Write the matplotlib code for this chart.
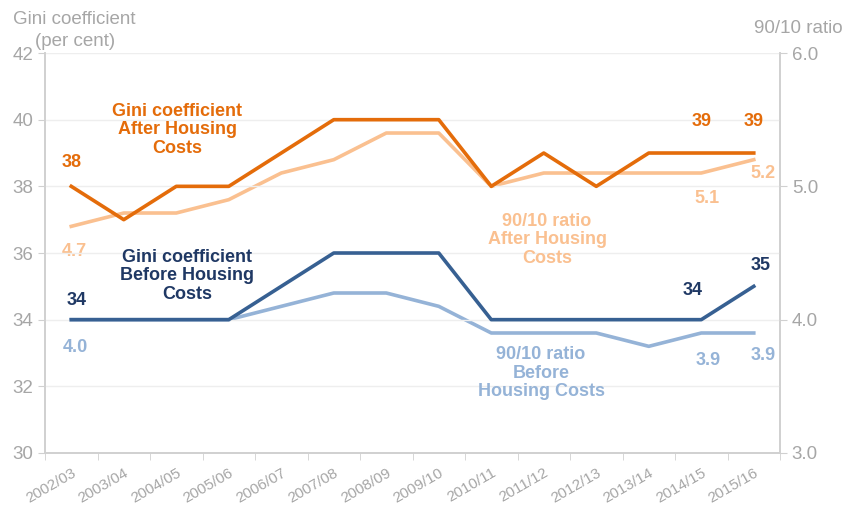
import matplotlib
matplotlib.use("Agg")
import matplotlib.pyplot as plt
import numpy as np

plt.rcParams["font.family"] = ["Liberation Sans", "DejaVu Sans"]

# ── data ────────────────────────────────────────────────────────────
YEARS = ["2002/03", "2003/04", "2004/05", "2005/06", "2006/07", "2007/08",
         "2008/09", "2009/10", "2010/11", "2011/12", "2012/13", "2013/14",
         "2014/15", "2015/16"]
GINI_AHC  = [38, 37, 38, 38, 39, 40, 40, 40, 38, 39, 38, 39, 39, 39]
GINI_BHC  = [34, 34, 34, 34, 35, 36, 36, 36, 34, 34, 34, 34, 34, 35]
RATIO_AHC = [4.7, 4.8, 4.8, 4.9, 5.1, 5.2, 5.4, 5.4, 5.0, 5.1, 5.1, 5.1, 5.1, 5.2]
RATIO_BHC = [4.0, 4.0, 4.0, 4.0, 4.1, 4.2, 4.2, 4.1, 3.9, 3.9, 3.9, 3.8, 3.9, 3.9]

C_GINI_AHC  = "#E46C0A"
C_RATIO_AHC = "#FAC090"
C_GINI_BHC  = "#376092"
C_GINI_TXT  = "#1F3864"
C_RATIO_BHC = "#95B3D7"
GREY        = "#A6A6A6"
SPINE       = "#D0D0D0"

x = np.arange(len(YEARS))

fig = plt.figure(figsize=(8.43, 5.05), dpi=100)
ax = fig.add_axes([0.0534, 0.103, 0.8719, 0.792])
ax2 = ax.twinx()

# ── lines ───────────────────────────────────────────────────────────
ax2.plot(x, RATIO_AHC, color=C_RATIO_AHC, lw=2.6, zorder=2)
ax2.plot(x, RATIO_BHC, color=C_RATIO_BHC, lw=2.6, zorder=2)
ax.plot(x, GINI_AHC, color=C_GINI_AHC, lw=2.6, zorder=3)
ax.plot(x, GINI_BHC, color=C_GINI_BHC, lw=2.6, zorder=3)
ax.set_zorder(ax2.get_zorder() + 1)
ax.patch.set_visible(False)

# ── axes ────────────────────────────────────────────────────────────
ax.set_xlim(-0.5, len(YEARS) - 0.5)
ax.set_ylim(30, 42)
ax.set_yticks(range(30, 43, 2))
ax2.set_ylim(3.0, 6.0)
ax2.set_yticks([3.0, 4.0, 5.0, 6.0])
ax2.set_yticklabels([f"{v:.1f}" for v in [3.0, 4.0, 5.0, 6.0]])

ax.set_xticks(x)
ax.set_xticklabels(YEARS, rotation=30, ha="right", rotation_mode="anchor",
                   color=GREY, fontsize=11)
ax.set_xticks(np.arange(-0.5, len(YEARS)), minor=True)
ax.tick_params(axis="x", which="major", length=0, pad=9)
ax.tick_params(axis="x", which="minor", length=5, color=SPINE)
ax.tick_params(axis="y", labelcolor=GREY, labelsize=13.5, color=SPINE, length=5)
ax2.tick_params(axis="y", labelcolor=GREY, labelsize=13.5, color=SPINE, length=5)

ax.grid(axis="y", color="#EEEEEE", lw=1)
ax.set_axisbelow(True)
for a in (ax, ax2):
    a.spines["top"].set_visible(False)
    for s in ("left", "right", "bottom"):
        a.spines[s].set_color(SPINE)
        a.spines[s].set_linewidth(1.2)

fig.text(0.015, 0.962, "Gini coefficient", color=GREY, fontsize=13.5, va="center")
fig.text(0.041, 0.918, "(per cent)", color=GREY, fontsize=13.5, va="center")
fig.text(0.895, 0.943, "90/10 ratio", color=GREY, fontsize=13.5, va="center")

# ── value labels ────────────────────────────────────────────────────
lbl = dict(fontsize=13, fontweight="bold", ha="center", va="center")
ax.annotate(f"{GINI_AHC[0]}", (x[0], GINI_AHC[0]), xytext=(0, 17),
            textcoords="offset points", color=C_GINI_AHC, **lbl)
for i in (12, 13):
    ax.annotate(f"{GINI_AHC[i]}", (x[i], GINI_AHC[i]), xytext=(0, 23),
                textcoords="offset points", color=C_GINI_AHC, **lbl)
ax.annotate(f"{GINI_BHC[0]}", (x[0], GINI_BHC[0]), xytext=(4, 14),
            textcoords="offset points", color=C_GINI_TXT, **lbl)
ax.annotate(f"{GINI_BHC[12]}", (x[12], GINI_BHC[12]), xytext=(-6, 21),
            textcoords="offset points", color=C_GINI_TXT, **lbl)
ax.annotate(f"{GINI_BHC[13]}", (x[13], GINI_BHC[13]), xytext=(5, 15),
            textcoords="offset points", color=C_GINI_TXT, **lbl)

ax2.annotate(f"{RATIO_AHC[0]:.1f}", (x[0], RATIO_AHC[0]), xytext=(2, -18),
             textcoords="offset points", color=C_RATIO_AHC, **lbl)
ax2.annotate(f"{RATIO_AHC[12]:.1f}", (x[12], RATIO_AHC[12]), xytext=(4, -18),
             textcoords="offset points", color=C_RATIO_AHC, **lbl)
ax2.annotate(f"{RATIO_AHC[13]:.1f}", (x[13], RATIO_AHC[13]), xytext=(7, -10),
             textcoords="offset points", color=C_RATIO_AHC, **lbl)
ax2.annotate(f"{RATIO_BHC[0]:.1f}", (x[0], RATIO_BHC[0]), xytext=(3, -20),
             textcoords="offset points", color=C_RATIO_BHC, **lbl)
ax2.annotate(f"{RATIO_BHC[12]:.1f}", (x[12], RATIO_BHC[12]), xytext=(5, -20),
             textcoords="offset points", color=C_RATIO_BHC, **lbl)
ax2.annotate(f"{RATIO_BHC[13]:.1f}", (x[13], RATIO_BHC[13]), xytext=(7, -16),
             textcoords="offset points", color=C_RATIO_BHC, **lbl)

# ── series names ────────────────────────────────────────────────────
name = dict(fontsize=13, fontweight="bold", ha="center", va="center",
            linespacing=1.15, transform=fig.transFigure)
fig.text(177 / 843, 1 - 130 / 505, "Gini coefficient\nAfter Housing\nCosts",
         color=C_GINI_AHC, **name)
fig.text(187 / 843, 1 - 276 / 505, "Gini coefficient\nBefore Housing\nCosts",
         color=C_GINI_TXT, **name)
fig.text(547 / 843, 1 - 240 / 505, "90/10 ratio\nAfter Housing\nCosts",
         color=C_RATIO_AHC, **name)
fig.text(541 / 843, 1 - 373 / 505, "90/10 ratio\nBefore\nHousing Costs",
         color=C_RATIO_BHC, **name)

fig.savefig("out.png", dpi=100)
